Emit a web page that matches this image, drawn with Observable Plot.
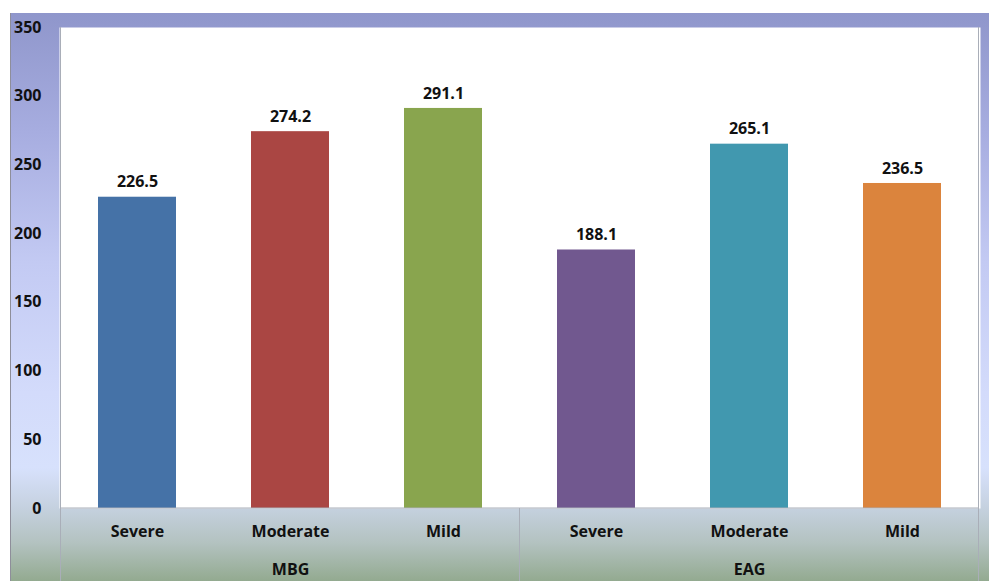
<!DOCTYPE html>
<html>
<head>
<meta charset="utf-8">
<script src="https://cdn.jsdelivr.net/npm/d3@7"></script>
<script src="https://cdn.jsdelivr.net/npm/@observablehq/plot@0.6"></script>
<style>
  html, body { margin: 0; padding: 0; background: #fff; }
  #wrap { position: relative; width: 989px; height: 581px; overflow: hidden; }
  #bg { position: absolute; left: 10px; top: 13px; width: 979px; height: 568px;
        border-left: 1.5px solid #8e8e9a;
        background: linear-gradient(to bottom, #8f96cb 0px, #a7ade0 120px, #c3caf3 250px, #d3dbfb 380px, #d7e1fc 455px, #c5d1df 495px, #b3c2c0 530px, #93aa90 568px); }
  #chart { position: absolute; left: 0; top: 0; }
  #chart svg { background: transparent !important; }
</style>
</head>
<body>
<div id="wrap"><div id="bg"></div><div id="chart"></div></div>
<script>
const groups = ["MBG", "MBG", "MBG", "EAG", "EAG", "EAG"];
const categories = ["Severe", "Moderate", "Mild", "Severe", "Moderate", "Mild"];
const values = [226.5, 274.2, 291.1, 188.1, 265.1, 236.5];
const colors = ["#4572a7", "#aa4643", "#89a54e", "#71588f", "#4198af", "#db843d"];
const yTicks = [0, 50, 100, 150, 200, 250, 300, 350];

const data = values.map((v, i) => ({
  key: groups[i] + "|" + categories[i],
  group: groups[i], category: categories[i], value: v, color: colors[i]
}));
const groupMid = data.filter((d, i) => i % 3 === 1);

const font = "'Open Sans', Lato, sans-serif";
const fs = 16;
const plot = Plot.plot({
  width: 989, height: 581,
  marginLeft: 59, marginRight: 9, marginTop: 27, marginBottom: 73,
  style: { background: "transparent", fontFamily: font, fontSize: fs + "px", fontWeight: "bold", color: "#111" },
  x: { domain: data.map(d => d.key), padding: 0.49, align: 0.5, paddingOuter: 0.245 },
  y: { domain: [0, 350], ticks: yTicks },
  marks: [
    Plot.frame({ fill: "white", stroke: "none" }),
    Plot.barY(data, { x: "key", y: "value", fill: "color" }),
    Plot.text(data, { x: "key", y: "value", text: d => d.value.toFixed(1), dy: -15, fontWeight: "bold", fontSize: fs, fill: "#111" }),
    Plot.axisY({ ticks: yTicks, tickSize: 0, tickPadding: 18, label: null, fontWeight: "bold", fontSize: fs, fill: "#111" }),
    Plot.axisX({ tickSize: 0, tickPadding: 17, label: null, tickFormat: k => k.split("|")[1], fontWeight: "bold", fontSize: fs, fill: "#111" }),
    Plot.text(groupMid, { x: "key", y: 0, text: "group", dy: 61, fontWeight: "bold", fontSize: fs, fill: "#111" })
  ]
});
document.getElementById("chart").appendChild(plot);

// separators of the category band, placed from the scales
const xs = plot.scale("x"), ys = plot.scale("y");
const svg = d3.select(plot);
const y0 = ys.apply(0), yTop = ys.apply(350);
const step = xs.step;
const firstStart = xs.apply(data[0].key) + xs.bandwidth / 2 - step / 2;
const lastEnd = xs.apply(data[5].key) + xs.bandwidth / 2 + step / 2;
const divider = xs.apply(data[2].key) + xs.bandwidth / 2 + step / 2;
const g = svg.append("g").attr("stroke", "#a9aeb8").attr("stroke-width", 1);
g.append("line").attr("x1", firstStart).attr("x2", lastEnd).attr("y1", y0).attr("y2", y0);
g.append("line").attr("x1", firstStart).attr("x2", firstStart).attr("y1", yTop).attr("y2", 581);
g.append("line").attr("x1", lastEnd).attr("x2", lastEnd).attr("y1", yTop).attr("y2", 581);
g.append("line").attr("x1", divider).attr("x2", divider).attr("y1", y0).attr("y2", 581);
</script>
</body>
</html>
